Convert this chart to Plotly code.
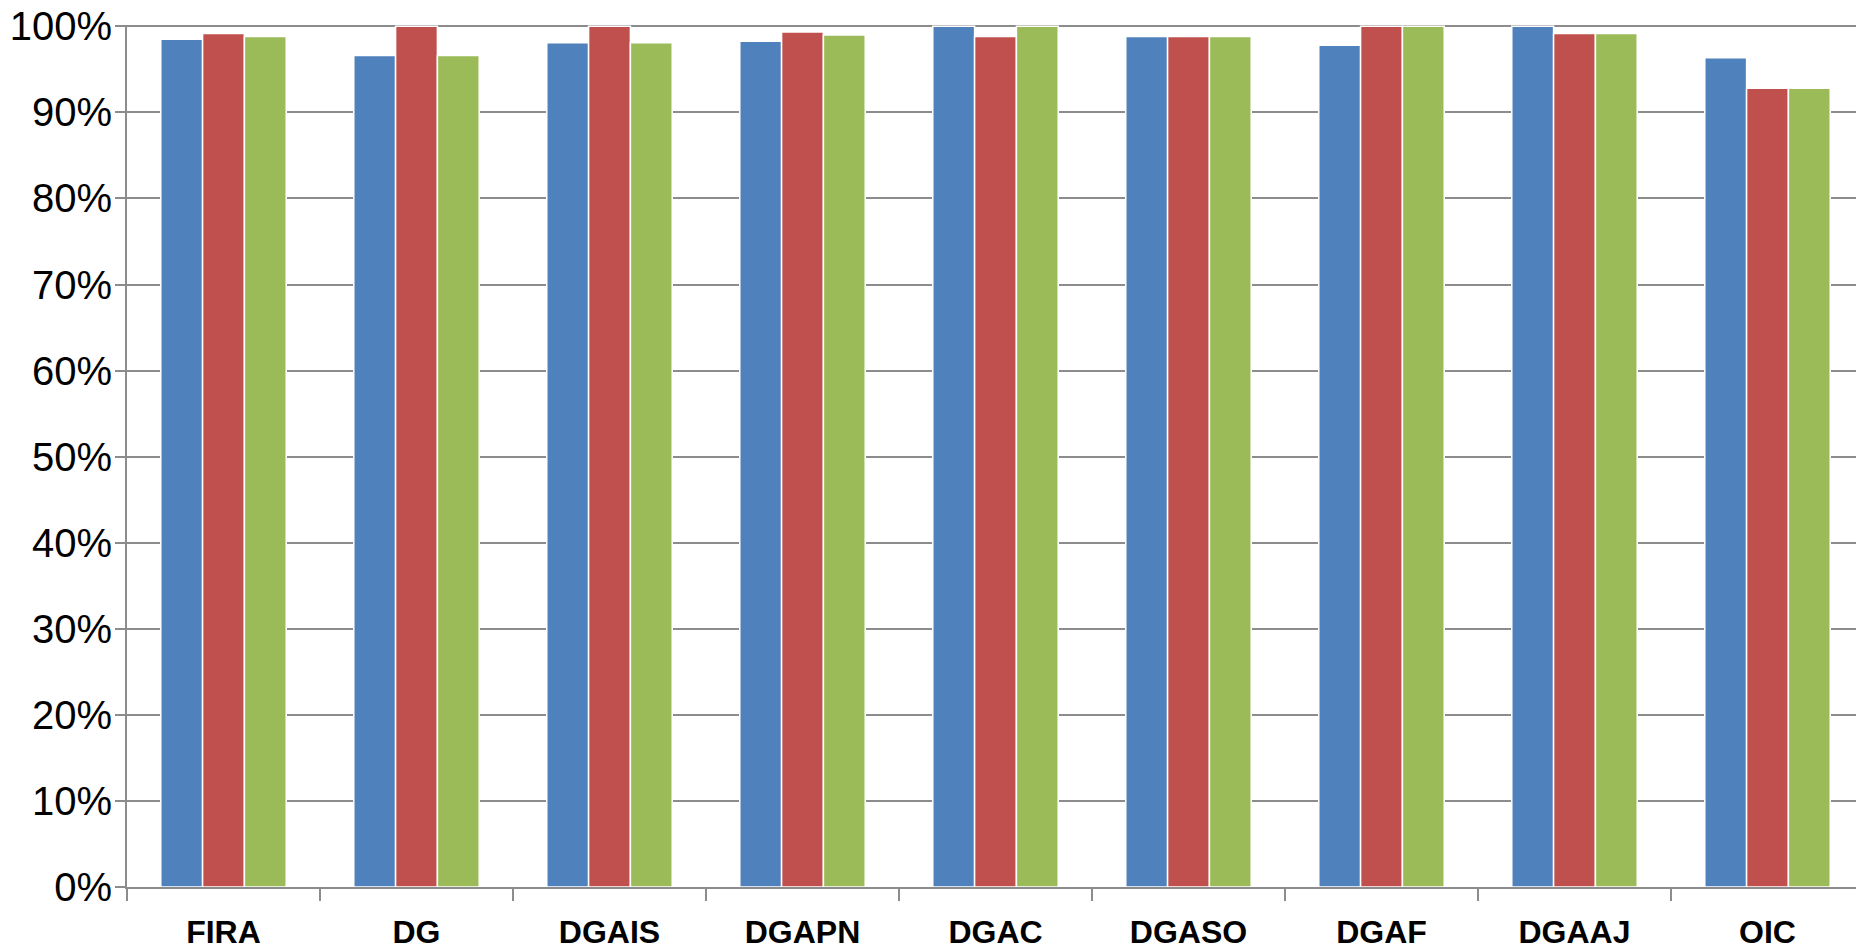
import plotly.graph_objects as go

categories = ["FIRA", "DG", "DGAIS", "DGAPN", "DGAC", "DGASO", "DGAF", "DGAAJ", "OIC"]
series_blue = [0.985, 0.966, 0.981, 0.9825, 1.0, 0.988, 0.978, 1.0, 0.9635]
series_red = [0.9915, 1.0, 1.0, 0.9935, 0.988, 0.988, 1.0, 0.9915, 0.928]
series_green = [0.988, 0.966, 0.981, 0.990, 1.0, 0.988, 1.0, 0.9915, 0.928]
y_ticks = [0, 0.1, 0.2, 0.3, 0.4, 0.5, 0.6, 0.7, 0.8, 0.9, 1.0]
y_tick_labels = ["0%", "10%", "20%", "30%", "40%", "50%", "60%", "70%", "80%", "90%", "100%"]

colors = ["#4F81BD", "#C0504D", "#9BBB59"]
names = ["Serie 1", "Serie 2", "Serie 3"]

fig = go.Figure()
for vals, col, nm in zip([series_blue, series_red, series_green], colors, names):
    fig.add_trace(go.Bar(
        x=categories, y=vals, name=nm,
        marker=dict(color=col, line=dict(color="white", width=1.5)),
        cliponaxis=False,
    ))

tick_font = "Liberation Sans Narrow, Arial Narrow, Liberation Sans, sans-serif"

# page body adds an 8px margin, so the figure is sized to fit the window
fig.update_layout(
    width=1856, height=944,
    paper_bgcolor="white", plot_bgcolor="white",
    margin=dict(l=119, r=0, t=17, b=65, autoexpand=False),
    barmode="group", bargap=0.35, bargroupgap=0.0,
    showlegend=False,
    xaxis=dict(
        type="category",
        showline=True, linecolor="#8C8C8C", linewidth=2,
        ticks="outside", ticklen=12, tickwidth=1.5, tickcolor="#8C8C8C",
        tickson="boundaries",
        tickfont=dict(family=tick_font, size=32, color="black", weight="bold"),
        ticklabelstandoff=16,
        showgrid=False,
        automargin=False,
    ),
    yaxis=dict(
        range=[0, 1.0015],
        tickvals=y_ticks, ticktext=y_tick_labels,
        showgrid=True, gridcolor="#8C8C8C", gridwidth=2,
        showline=True, linecolor="#8C8C8C", linewidth=2,
        ticks="outside", ticklen=10, tickwidth=2, tickcolor="#8C8C8C",
        tickfont=dict(family=tick_font, size=40, color="black"),
        ticklabelstandoff=-5,
        ticklabeloverflow="allow",
        zeroline=False,
        automargin=False,
    ),
)

fig.write_html("out.html")
